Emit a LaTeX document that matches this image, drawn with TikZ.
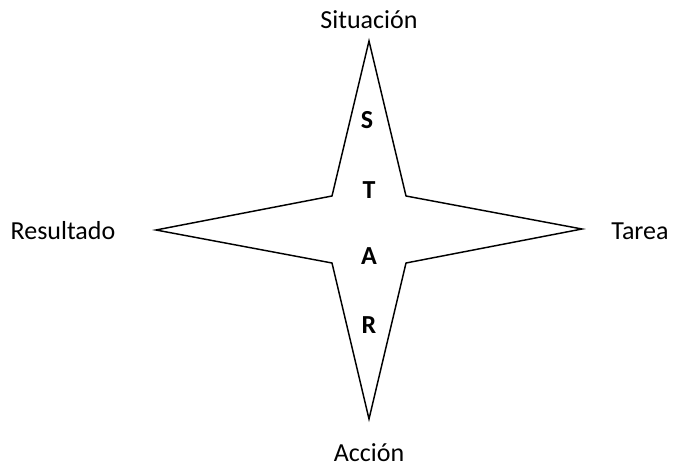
\documentclass[tikz,border=0pt]{standalone}
\usepackage{fontspec}
\setmainfont{Carlito}
\begin{document}
\begin{tikzpicture}[x=0.75pt,y=-0.75pt,
  lbl/.style={font=\fontsize{19.5}{22}\selectfont, inner sep=0pt, anchor=base},
  letter/.style={font=\fontsize{19.5}{22}\selectfont\bfseries, inner sep=0pt},
  star/.style={draw=black, line width=1.1pt, line join=miter, fill=white}]
\useasboundingbox (0,0) rectangle (674,466);
% four-pointed star
\coordinate (top) at (369,41);
\coordinate (ur) at (406,196);
\coordinate (right) at (582,229);
\coordinate (lr) at (406,263);
\coordinate (bottom) at (369,419);
\coordinate (ll) at (332,263);
\coordinate (left) at (156,230);
\coordinate (ul) at (332,196);
\draw[star] (top) -- (ur) -- (right) -- (lr) -- (bottom) -- (ll) -- (left) -- (ul) -- cycle;
% letters inside
\node[letter] (s) at (367,120) {S};
\node[letter] (t) at (369,190) {T};
\node[letter] (a) at (369,256) {A};
\node[letter] (r) at (369,325) {R};
% outer labels (placed on their baselines)
\node[lbl] (sit) at (369,29) {Situación};
\node[lbl] (acc) at (369,461) {Acción};
\node[lbl] (res) at (63,240) {Resultado};
\node[lbl] (tar) at (640,240) {Tarea};
\end{tikzpicture}
\end{document}
